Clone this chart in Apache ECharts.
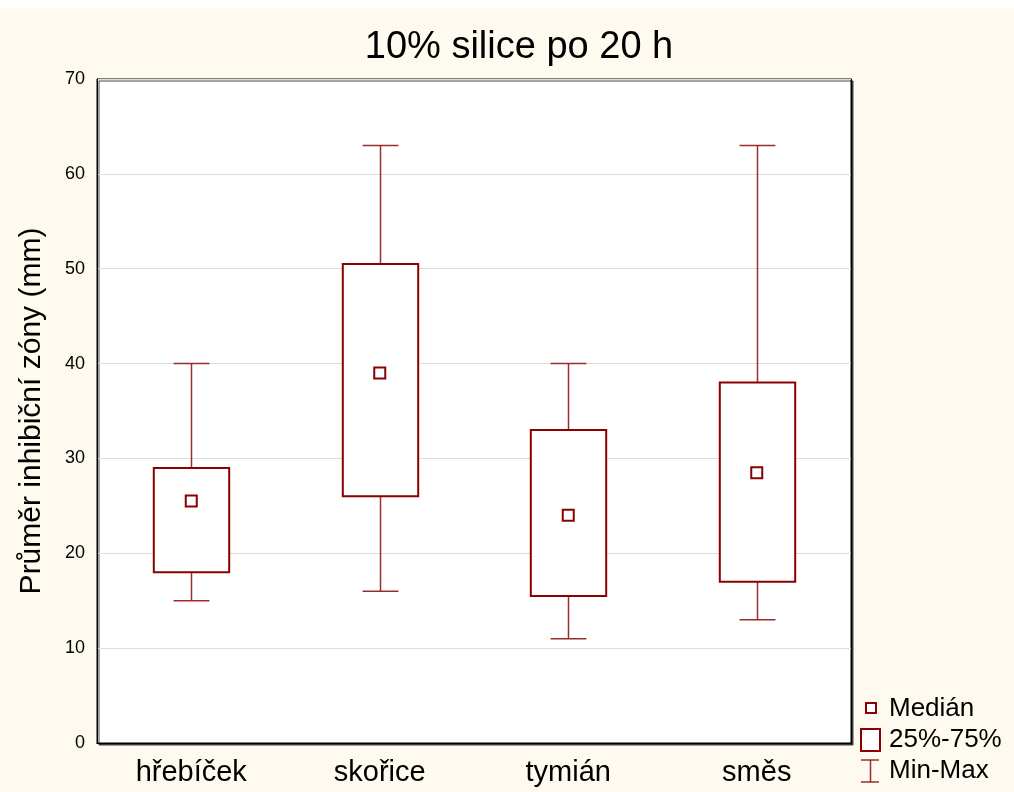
<!DOCTYPE html>
<html>
<head>
<meta charset="utf-8">
<script src="https://cdn.jsdelivr.net/npm/echarts@6/dist/echarts.min.js"></script>
<style>
  html, body { margin: 0; padding: 0; background: #fefaef; }
  #chart { width: 1014px; height: 792px; }
</style>
</head>
<body>
<div id="chart"></div>
<script>
// Inhibition zone diameters after 20 h, 10% essential oils
const categories = ['hřebíček', 'skořice', 'tymián', 'směs'];
const minVals = [15, 16, 11, 13];
const q1Vals = [18, 26, 15.5, 17];
const medianVals = [25.5, 39, 24, 28.5];
const q3Vals = [29, 50.5, 33, 38];
const maxVals = [40, 63, 40, 63];
const yTicks = [0, 10, 20, 30, 40, 50, 60, 70];

const RED = '#8b0000';
const WHISKER = '#9e2a2a';
const FONT = '"Liberation Sans", Arial, sans-serif';

const boxData = categories.map((c, i) => [i, minVals[i], q1Vals[i], q3Vals[i], maxVals[i]]);
const medianData = categories.map((c, i) => [i, medianVals[i]]);

function renderBox(params, api) {
  const x = api.value(0);
  const pMin = api.coord([x, api.value(1)]);
  const pQ1 = api.coord([x, api.value(2)]);
  const pQ3 = api.coord([x, api.value(3)]);
  const pMax = api.coord([x, api.value(4)]);
  const band = api.size([1, 0])[0];
  const boxW = band * 0.4;
  const capW = band * 0.19;
  const cx = Math.round(pMin[0]) + 0.5;
  const lineStyle = { stroke: WHISKER, lineWidth: 1.5 };
  return {
    type: 'group',
    children: [
      { type: 'line', shape: { x1: cx, y1: pMax[1], x2: cx, y2: pQ3[1] }, style: lineStyle },
      { type: 'line', shape: { x1: cx, y1: pQ1[1], x2: cx, y2: pMin[1] }, style: lineStyle },
      { type: 'line', shape: { x1: cx - capW / 2, y1: pMax[1], x2: cx + capW / 2, y2: pMax[1] }, style: lineStyle },
      { type: 'line', shape: { x1: cx - capW / 2, y1: pMin[1], x2: cx + capW / 2, y2: pMin[1] }, style: lineStyle },
      {
        type: 'rect',
        shape: { x: cx - boxW / 2, y: pQ3[1], width: boxW, height: pQ1[1] - pQ3[1] },
        style: { fill: '#ffffff', stroke: RED, lineWidth: 2 }
      }
    ]
  };
}

const chart = echarts.init(document.getElementById('chart'), null, { renderer: 'canvas' });

const legendX = 861;
const legendFont = '26px ' + FONT;

chart.setOption({
  backgroundColor: '#fefaef',
  animation: false,
  title: {
    text: '10% silice po 20 h',
    left: 514,
    top: 24,
    textAlign: 'center',
    textStyle: { fontFamily: FONT, fontSize: 38, fontWeight: 'normal', color: '#000' }
  },
  grid: {
    left: 97, top: 79, width: 754, height: 664,
    show: true,
    backgroundColor: '#ffffff',
    borderColor: '#000',
    borderWidth: 1,
    shadowColor: 'rgba(40,40,40,0.85)',
    shadowOffsetX: 2,
    shadowOffsetY: 2,
    shadowBlur: 0
  },
  xAxis: [
    {
      type: 'category',
      data: categories,
      position: 'bottom',
      axisLine: { lineStyle: { color: '#000', width: 1 } },
      axisTick: { inside: true, alignWithLabel: true, length: 5, lineStyle: { color: '#000' } },
      axisLabel: { fontFamily: FONT, fontSize: 29, color: '#000', margin: 15 },
      splitLine: { show: false }
    },
    {
      type: 'category',
      data: categories,
      position: 'top',
      axisLine: { lineStyle: { color: '#000', width: 1 } },
      axisTick: { inside: true, alignWithLabel: true, length: 5, lineStyle: { color: '#000' } },
      axisLabel: { show: false },
      splitLine: { show: false }
    }
  ],
  yAxis: [
    {
      type: 'value',
      min: 0, max: 70, interval: 10,
      name: 'Průměr inhibiční zóny (mm)',
      nameLocation: 'middle',
      nameGap: 50,
      nameRotate: 90,
      nameTextStyle: { fontFamily: FONT, fontSize: 30, color: '#000' },
      axisLine: { show: true, lineStyle: { color: '#000' } },
      axisTick: { inside: true, length: 4, lineStyle: { color: '#000' } },
      axisLabel: {
        fontFamily: FONT, fontSize: 18, color: '#000', margin: 12,
        formatter: v => (yTicks.includes(v) ? String(v) : '')
      },
      splitLine: { show: true, lineStyle: { color: '#dcdcdc', width: 1 } }
    },
    {
      type: 'value',
      min: 0, max: 70, interval: 10,
      position: 'right',
      axisLine: { show: true, lineStyle: { color: '#000' } },
      axisTick: { inside: true, length: 4, lineStyle: { color: '#000' } },
      axisLabel: { show: false },
      splitLine: { show: false }
    }
  ],
  series: [
    {
      name: '25%-75%',
      type: 'custom',
      xAxisIndex: 0,
      yAxisIndex: 0,
      renderItem: renderBox,
      encode: { x: 0, y: [1, 2, 3, 4] },
      data: boxData,
      z: 3
    },
    {
      name: 'Medián',
      type: 'scatter',
      xAxisIndex: 0,
      yAxisIndex: 0,
      symbol: 'rect',
      symbolSize: 11,
      itemStyle: { color: '#ffffff', borderColor: RED, borderWidth: 2, opacity: 1 },
      data: medianData,
      z: 5
    }
  ],
  graphic: [
    // thin white band across the top edge
    { type: 'rect', left: 0, top: 0, shape: { width: 1014, height: 8 }, style: { fill: '#ffffff' }, silent: true },
    // legend: median marker
    { type: 'rect', shape: { x: legendX + 5, y: 703, width: 10, height: 10 }, style: { fill: '#fff', stroke: RED, lineWidth: 2 } },
    { type: 'text', x: 889, y: 709, style: { text: 'Medián', font: legendFont, fill: '#000', textVerticalAlign: 'middle', verticalAlign: 'middle' } },
    // legend: quartile box
    { type: 'rect', shape: { x: legendX, y: 729, width: 19, height: 22 }, style: { fill: '#fff', stroke: RED, lineWidth: 2 } },
    { type: 'text', x: 889, y: 740, style: { text: '25%-75%', font: legendFont, fill: '#000', textVerticalAlign: 'middle', verticalAlign: 'middle' } },
    // legend: min-max whisker
    { type: 'line', shape: { x1: legendX, y1: 760, x2: legendX + 18, y2: 760 }, style: { stroke: WHISKER, lineWidth: 1.5 } },
    { type: 'line', shape: { x1: legendX + 9.5, y1: 760, x2: legendX + 9.5, y2: 782 }, style: { stroke: WHISKER, lineWidth: 1.5 } },
    { type: 'line', shape: { x1: legendX, y1: 782, x2: legendX + 18, y2: 782 }, style: { stroke: WHISKER, lineWidth: 1.5 } },
    { type: 'text', x: 889, y: 771, style: { text: 'Min-Max', font: legendFont, fill: '#000', textVerticalAlign: 'middle', verticalAlign: 'middle' } }
  ]
});
</script>
</body>
</html>
